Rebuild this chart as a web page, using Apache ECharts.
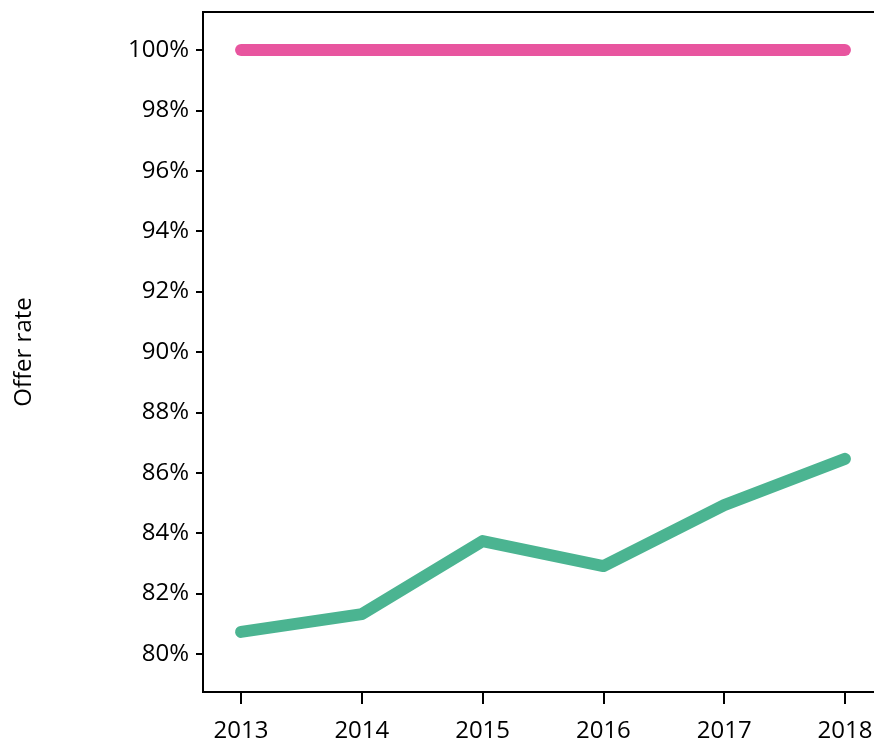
<!DOCTYPE html>
<html>
<head>
<meta charset="utf-8">
<script src="https://cdn.jsdelivr.net/npm/echarts@6/dist/echarts.min.js"></script>
<style>
  html, body { margin: 0; padding: 0; overflow: hidden; background: #fff; }
  #chart { width: 883px; height: 740px; }
</style>
</head>
<body>
<div id="chart"></div>
<script>
const years = [2013, 2014, 2015, 2016, 2017, 2018]
const offerRateLow = [80.73, 81.32, 83.74, 82.91, 84.93, 86.46]
const offerRateHigh = [100, 100, 100, 100, 100, 100]
const yTicks = [80, 82, 84, 86, 88, 90, 92, 94, 96, 98, 100]

const font = 'Open Sans'
const pair = vals => years.map((y, i) => [y, vals[i]])

const chart = echarts.init(document.getElementById('chart'))

chart.setOption({
  animation: false,
  grid: {
    left: 203, top: 12, right: 0, bottom: 48,
    outerBoundsMode: 'none',
    containLabel: false,
    show: true, borderColor: '#000', borderWidth: 2
  },
  xAxis: {
    type: 'value',
    min: 2012.685,
    max: 2018.315,
    splitLine: { show: false },
    axisLine: { show: true, lineStyle: { color: '#000', width: 2 } },
    axisTick: { show: true, length: 12, lineStyle: { color: '#000', width: 2 }, customValues: years },
    axisLabel: {
      customValues: years,
      formatter: v => String(v),
      color: '#000', fontSize: 24, fontFamily: font, margin: 27
    }
  },
  yAxis: {
    type: 'value',
    min: 78.74,
    max: 101.26,
    name: 'Offer rate',
    nameLocation: 'middle',
    nameGap: 167,
    nameTextStyle: { color: '#000', fontSize: 24, fontFamily: font },
    splitLine: { show: false },
    axisLine: { show: true, lineStyle: { color: '#000', width: 2 } },
    axisTick: { show: true, length: 7, lineStyle: { color: '#000', width: 2 }, customValues: yTicks },
    axisLabel: {
      customValues: yTicks,
      formatter: v => v + '%',
      color: '#000', fontSize: 24, fontFamily: font, margin: 14
    }
  },
  series: [
    {
      type: 'line',
      data: pair(offerRateHigh),
      showSymbol: false,
      lineStyle: { color: '#e8559f', width: 12, cap: 'round', join: 'round' }
    },
    {
      type: 'line',
      data: pair(offerRateLow),
      showSymbol: false,
      lineStyle: { color: '#4bb491', width: 12, cap: 'round', join: 'round' }
    }
  ]
})
</script>
</body>
</html>
